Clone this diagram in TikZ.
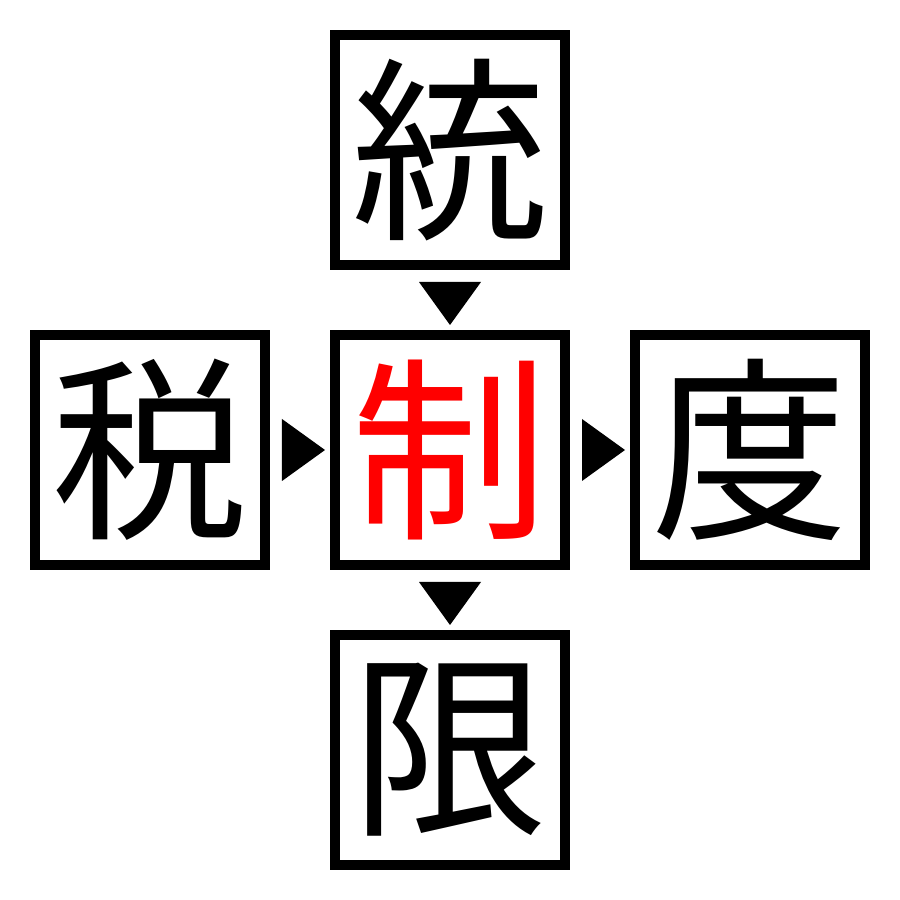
\documentclass[tikz,border=0pt]{standalone}
\usepackage{fontspec}
\newfontfamily\cjk{Noto Sans CJK JP}
\usetikzlibrary{positioning,calc}

\begin{document}
\begin{tikzpicture}[
    kanji/.style={draw,line width=0.1cm,minimum size=2.3cm,inner sep=0pt,
        font=\cjk\fontsize{56}{56}\selectfont},
    key/.style={kanji,text=red},
    tri/.style={fill=black},
]
    \useasboundingbox (0,0) rectangle (9,9);
        \node[key] (sei) at (4.5,4.5) {制};
        \node[kanji,above=0.6cm of sei] (tou) {統};
        \node[kanji,left=0.6cm of sei] (zei) {税};
        \node[kanji,right=0.6cm of sei] (do) {度};
        \node[kanji,below=0.6cm of sei] (gen) {限};
        % pointers between the boxes
        \fill[tri] ($(tou.south)+(-0.31,-0.12)$) -- ($(tou.south)+(0.31,-0.12)$) -- ($(sei.north)+(0,0.05)$) -- cycle;
        \fill[tri] ($(sei.south)+(-0.31,-0.12)$) -- ($(sei.south)+(0.31,-0.12)$) -- ($(gen.north)+(0,0.05)$) -- cycle;
        \fill[tri] ($(zei.east)+(0.12,0.31)$) -- ($(zei.east)+(0.12,-0.31)$) -- ($(sei.west)+(-0.05,0)$) -- cycle;
        \fill[tri] ($(sei.east)+(0.12,0.31)$) -- ($(sei.east)+(0.12,-0.31)$) -- ($(do.west)+(-0.05,0)$) -- cycle;
    \end{tikzpicture}
\end{document}
